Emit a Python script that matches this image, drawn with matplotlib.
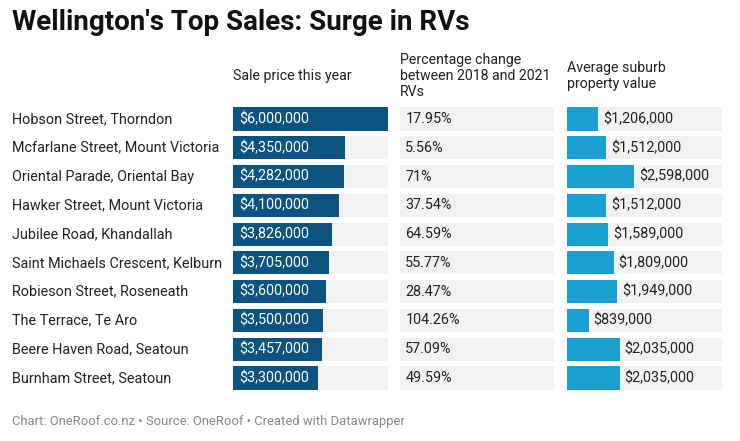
"""Wellington's top sales table with bars (Datawrapper style)."""

import matplotlib
matplotlib.use("Agg")
import matplotlib.pyplot as plt
import matplotlib.transforms as mtransforms

plt.rcParams["font.family"] = ["Roboto", "DejaVu Sans"]

streets = [
    "Hobson Street, Thorndon",
    "Mcfarlane Street, Mount Victoria",
    "Oriental Parade, Oriental Bay",
    "Hawker Street, Mount Victoria",
    "Jubilee Road, Khandallah",
    "Saint Michaels Crescent, Kelburn",
    "Robieson Street, Roseneath",
    "The Terrace, Te Aro",
    "Beere Haven Road, Seatoun",
    "Burnham Street, Seatoun",
]
sale_price = [6000000, 4350000, 4282000, 4100000, 3826000,
              3705000, 3600000, 3500000, 3457000, 3300000]
pct_change = ["17.95%", "5.56%", "71%", "37.54%", "64.59%",
              "55.77%", "28.47%", "104.26%", "57.09%", "49.59%"]
suburb_value = [1206000, 1512000, 2598000, 1512000, 1589000,
                1809000, 1949000, 839000, 2035000, 2035000]
headers = ["Sale price this year",
           "Percentage change\nbetween 2018 and 2021\nRVs",
           "Average suburb\nproperty value"]

W, H = 740, 441
DARK = "#0b5380"
LIGHT = "#1a9fd1"
GREY = "#f2f2f2"
TEXT = "#222222"
FS = 10.4

fig = plt.figure(figsize=(W / 100, H / 100), dpi=100)
fig.patch.set_facecolor("white")


def col_axes(left_px, width_px):
    top_px, bottom_px = 104.6, 392.4
    ax = fig.add_axes([left_px / W, 1 - bottom_px / H,
                       width_px / W, (bottom_px - top_px) / H])
    ax.set_ylim(len(streets) - 0.5, -0.5)
    ax.axis("off")
    return ax


rows = range(len(streets))
xmax = 6000000
bar_h = 0.8

# sale price column
ax1 = col_axes(233, 155)
ax1.set_xlim(0, xmax)
ax1.barh(rows, [xmax] * len(rows), height=bar_h, color=GREY)
ax1.barh(rows, sale_price, height=bar_h, color=DARK)
for i, v in enumerate(sale_price):
    ax1.annotate(f"${v:,.0f}", (0, i), xytext=(4.3, 0), textcoords="offset points",
                 ha="left", va="center", color="white", fontsize=FS)

# row labels
lab_tr = mtransforms.blended_transform_factory(fig.transFigure, ax1.transData)
for i, s in enumerate(streets):
    ax1.text(12 / W, i, s, transform=lab_tr, ha="left", va="center",
             color=TEXT, fontsize=FS)

# percentage column
ax2 = col_axes(400, 154)
ax2.set_xlim(0, 1)
ax2.barh(rows, [1] * len(rows), height=bar_h, color=GREY)
for i, s in enumerate(pct_change):
    ax2.annotate(s, (0, i), xytext=(3.8, 0), textcoords="offset points",
                 ha="left", va="center", color=TEXT, fontsize=FS)

# suburb value column
ax3 = col_axes(567, 155)
ax3.set_xlim(0, xmax)
ax3.barh(rows, [xmax] * len(rows), height=bar_h, color=GREY)
ax3.barh(rows, suburb_value, height=bar_h, color=LIGHT)
for i, v in enumerate(suburb_value):
    ax3.annotate(f"${v:,.0f}", (v, i), xytext=(3.6, 0), textcoords="offset points",
                 ha="left", va="center", color=TEXT, fontsize=FS)

# column headers
for x_px, h in zip([233, 400, 567], headers):
    fig.text(x_px / W, 1 - 76 / H, h, ha="left", va="center", color=TEXT,
             fontsize=10.2, linespacing=1.2)

fig.text(12 / W, 1 - 23 / H, "Wellington's Top Sales: Surge in RVs",
         ha="left", va="center", fontsize=20, fontweight="bold", color="#111111")
fig.text(12 / W, 1 - 421 / H,
         "Chart: OneRoof.co.nz \u2022 Source: OneRoof \u2022 Created with Datawrapper",
         ha="left", va="center", fontsize=9.4, color="#888888")

fig.savefig("out.png", dpi=100)
